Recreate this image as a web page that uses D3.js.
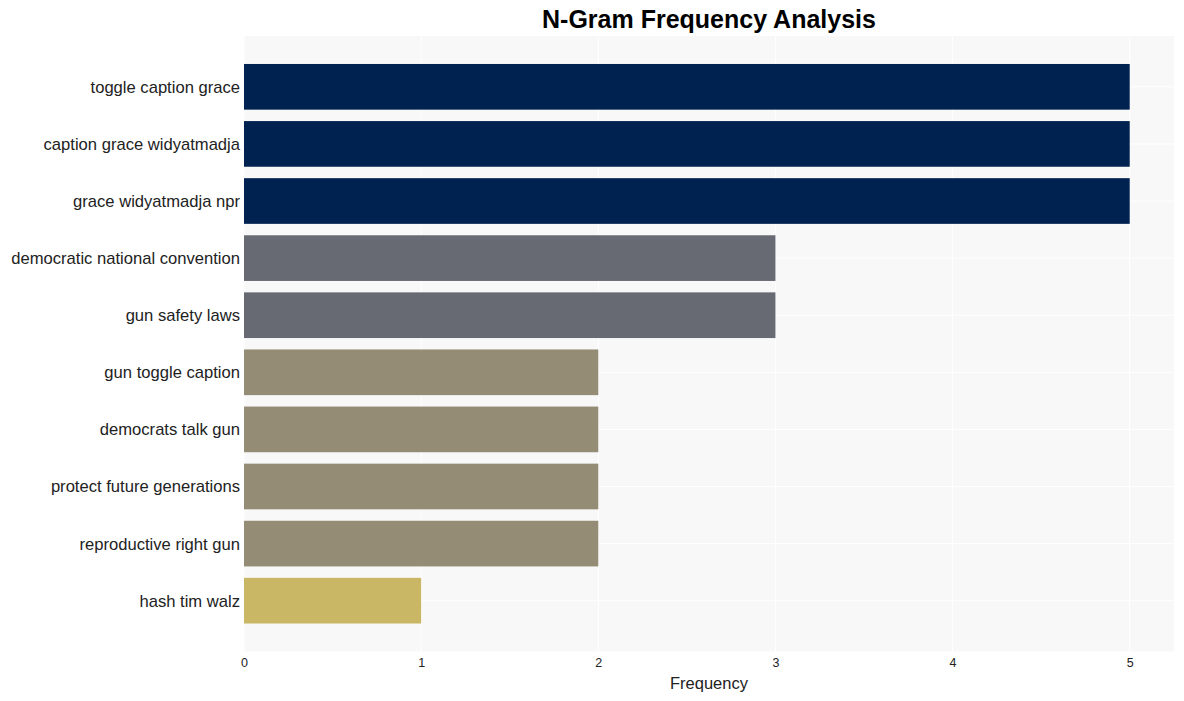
<!DOCTYPE html>
<html>
<head>
<meta charset="utf-8">
<script src="https://cdn.jsdelivr.net/npm/d3@7"></script>
<style>
  body { margin: 0; background: #fff; }
  svg { display: block; font-family: "Liberation Sans", Arial, sans-serif; }
</style>
</head>
<body>
<svg id="chart" width="1184" height="701"></svg>
<script>
const categories = [
  "toggle caption grace",
  "caption grace widyatmadja",
  "grace widyatmadja npr",
  "democratic national convention",
  "gun safety laws",
  "gun toggle caption",
  "democrats talk gun",
  "protect future generations",
  "reproductive right gun",
  "hash tim walz"
];
const values = [5, 5, 5, 3, 3, 2, 2, 2, 2, 1];
const xTicks = [0, 1, 2, 3, 4, 5];
const colorByValue = { 5: "#002250", 3: "#676a72", 2: "#948c74", 1: "#c9b765" };

const svg = d3.select("#chart");
const plotLeft = 244, plotRight = 1174, plotTop = 36, plotBottom = 651.5;

const x = d3.scaleLinear().domain([0, 5.25]).range([plotLeft, plotRight]);
const y = d3.scaleBand().domain(categories).range([plotTop, plotBottom])
  .paddingInner(0.2).paddingOuter(0.49);

svg.append("rect").attr("x", plotLeft).attr("y", plotTop)
  .attr("width", plotRight - plotLeft).attr("height", plotBottom - plotTop)
  .attr("fill", "#f8f8f8");

// grid lines
svg.append("g").selectAll("line").data(xTicks).join("line")
  .attr("x1", d => x(d)).attr("x2", d => x(d))
  .attr("y1", plotTop).attr("y2", plotBottom)
  .attr("stroke", "#ffffff").attr("stroke-width", 1);
svg.append("g").selectAll("line").data(categories).join("line")
  .attr("x1", plotLeft).attr("x2", plotRight)
  .attr("y1", d => y(d) + y.bandwidth() / 2).attr("y2", d => y(d) + y.bandwidth() / 2)
  .attr("stroke", "#ffffff").attr("stroke-width", 1);

// bars
svg.append("g").selectAll("rect").data(categories).join("rect")
  .attr("x", x(0))
  .attr("y", d => y(d))
  .attr("width", (d, i) => x(values[i]) - x(0))
  .attr("height", y.bandwidth())
  .attr("fill", (d, i) => colorByValue[values[i]]);

// y axis labels
const yAxis = d3.axisLeft(y).tickSize(0).tickPadding(4);
const gy = svg.append("g").attr("transform", `translate(${plotLeft},0)`).call(yAxis);
gy.select(".domain").remove();
gy.selectAll("text").attr("font-size", 16.6).attr("fill", "#222").attr("dy", "0.36em")
  .attr("font-family", "Liberation Sans, Arial, sans-serif");

// x axis
const xAxis = d3.axisBottom(x).tickValues(xTicks).tickSize(0).tickPadding(7).tickFormat(d3.format("d"));
const gx = svg.append("g").attr("transform", `translate(0,${plotBottom})`).call(xAxis);
gx.select(".domain").remove();
gx.selectAll("text").attr("font-size", 12.5).attr("fill", "#222")
  .attr("font-family", "Liberation Sans, Arial, sans-serif");

svg.append("text").attr("x", (plotLeft + plotRight) / 2).attr("y", 689)
  .attr("text-anchor", "middle").attr("font-size", 16.5).attr("fill", "#222")
  .text("Frequency");

svg.append("text").attr("x", (plotLeft + plotRight) / 2).attr("y", 28)
  .attr("text-anchor", "middle").attr("font-size", 25).attr("font-weight", "bold")
  .attr("fill", "#000").text("N-Gram Frequency Analysis");
</script>
</body>
</html>
